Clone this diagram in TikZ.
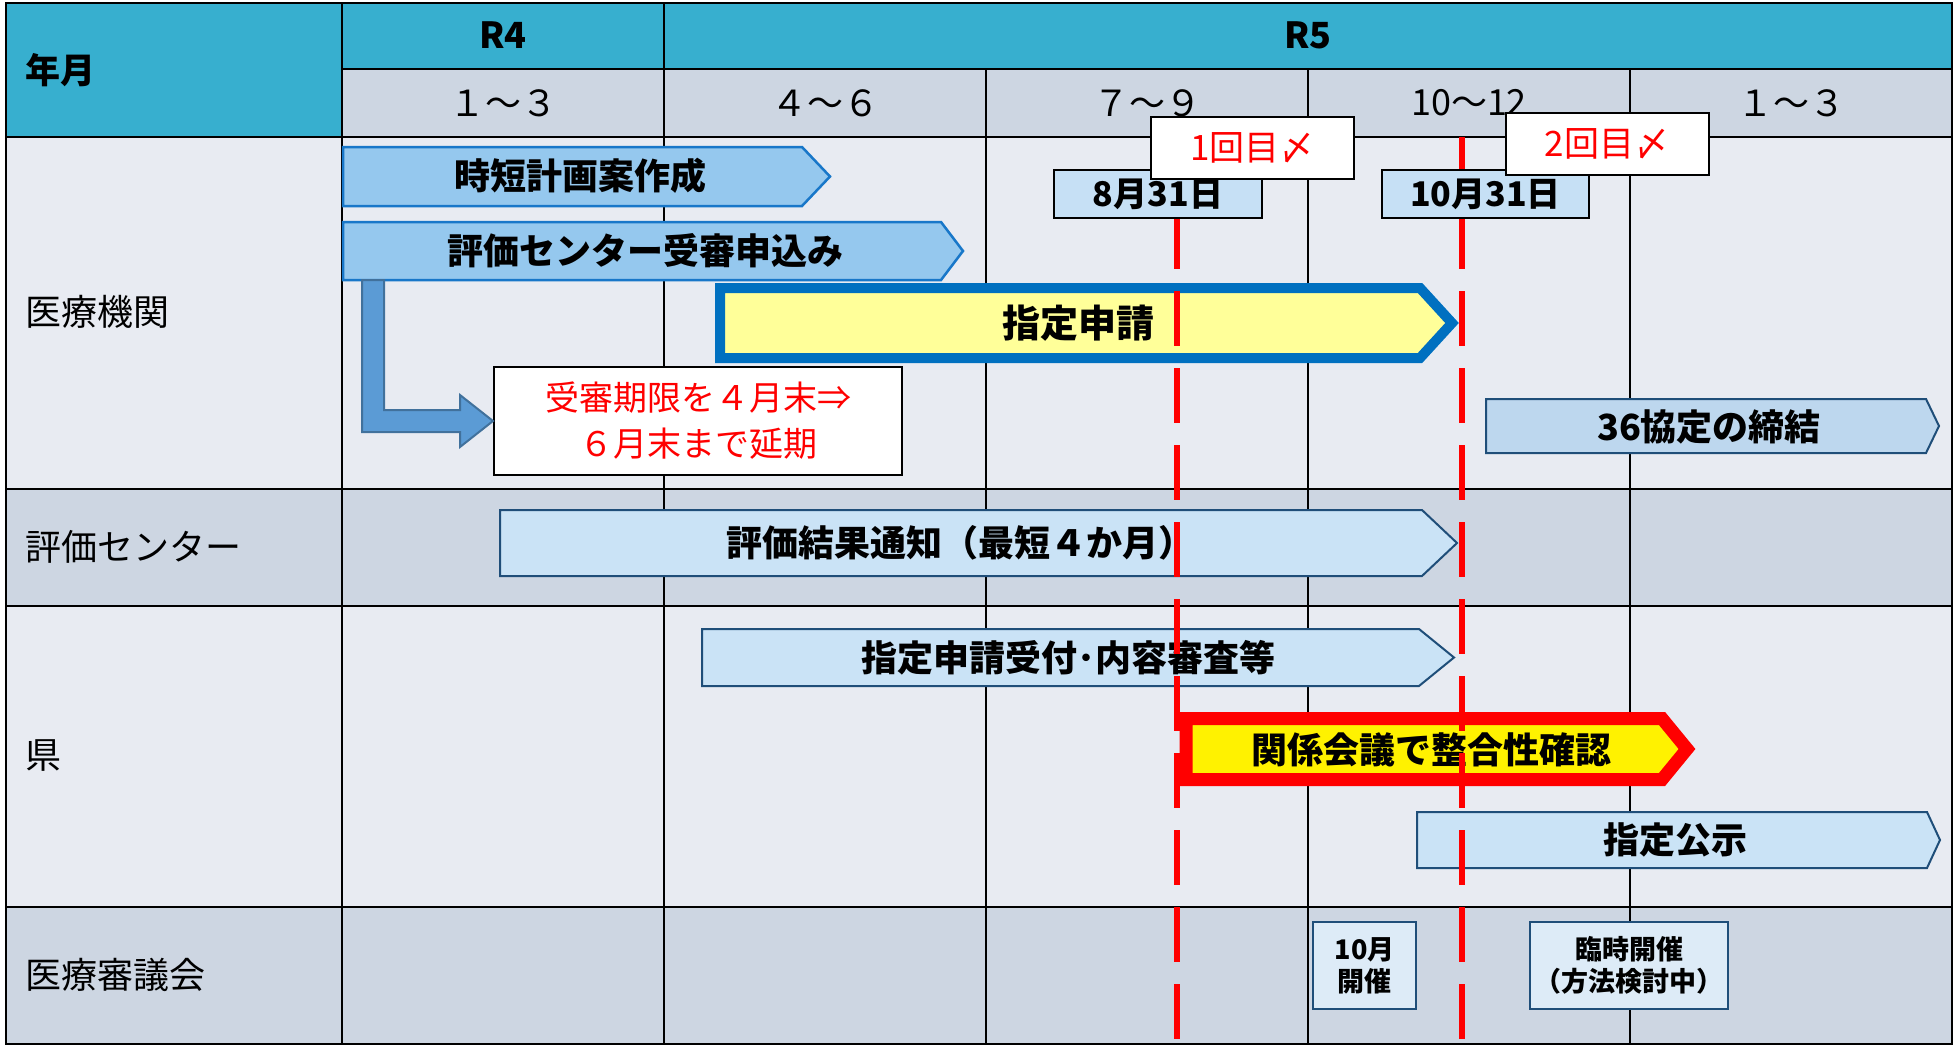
\documentclass[tikz,border=0pt]{standalone}
\usepackage{fontspec}
\setmainfont{Noto Sans CJK JP}
\usetikzlibrary{calc}

\definecolor{headteal}{RGB}{55,175,207}
\definecolor{subgray}{RGB}{205,214,226}
\definecolor{rowlight}{RGB}{232,235,242}
\definecolor{rowdark}{RGB}{205,214,226}
\definecolor{steelfill}{RGB}{149,200,238}
\definecolor{steelline}{RGB}{24,119,201}
\definecolor{palefill}{RGB}{202,227,246}
\definecolor{pactfill}{RGB}{189,215,238}
\definecolor{paleline}{RGB}{31,78,121}
\definecolor{requestfill}{RGB}{255,255,153}
\definecolor{requestline}{RGB}{0,112,192}
\definecolor{datefill}{RGB}{198,224,245}
\definecolor{meetfill}{RGB}{221,235,247}
\definecolor{bentfill}{RGB}{91,155,213}
\definecolor{bentline}{RGB}{65,113,156}

\begin{document}
\begin{tikzpicture}[x=1pt, y=-1pt,
  rowline/.style={line width=2.5pt},
  colline/.style={line width=1.5pt},
  headtext/.style={font=\fontsize{36}{40}\selectfont\bfseries},
  subtext/.style={font=\fontsize{36}{40}\selectfont},
  rowtext/.style={font=\fontsize{36}{40}\selectfont, anchor=west},
  steelbar/.style={fill=steelfill, draw=steelline, line width=2.5pt},
  palebar/.style={fill=palefill, draw=paleline, line width=2pt},
  bartext/.style={font=\fontsize{36}{40}\selectfont\bfseries},
  datebox/.style={draw, fill=datefill, line width=2pt, minimum width=207pt, minimum height=48pt, inner sep=0pt, font=\fontsize{34}{38}\selectfont\bfseries},
  cutbox/.style={draw, fill=white, line width=2pt, minimum width=203pt, minimum height=62pt, inner sep=0pt, text=red, font=\fontsize{35}{38}\selectfont},
  notebox/.style={draw, fill=white, line width=2pt, minimum width=408pt, minimum height=108pt, inner sep=0pt, align=center, text=red, font=\fontsize{34}{46}\selectfont},
  meetbox/.style={draw=paleline, fill=meetfill, line width=2.5pt, minimum height=87pt, inner sep=0pt, align=center, font=\fontsize{27}{32}\selectfont\bfseries},
  bentarrow/.style={fill=bentfill, draw=bentline, line width=2pt},
  deadline/.style={draw=red, line width=6pt, dash pattern=on 55pt off 22pt}]

\useasboundingbox (0,0) rectangle (1954,1049);

% Table frame
\def\tabl{6}      % left edge of the table
\def\tabr{1952}   % right edge of the table
\def\tabtop{3}    % top edge of the table
\def\headbot{69}  % bottom of the year row
\def\subbot{137}  % bottom of the quarter row
\def\orgbot{489}  % bottom of the hospital row
\def\evalbot{606} % bottom of the evaluation center row
\def\prefbot{907} % bottom of the prefecture row
\def\tabbot{1044} % bottom of the table
\def\labelw{342}  % right edge of the label column
\def\colw{322}    % width of one quarter

% Row backgrounds
\fill[headteal] (\tabl,\tabtop) rectangle (\tabr,\subbot);
\fill[subgray] (\labelw,\headbot) rectangle (\tabr,\subbot);
\fill[rowlight] (\tabl,\subbot) rectangle (\tabr,\orgbot);
\fill[rowdark] (\tabl,\orgbot) rectangle (\tabr,\evalbot);
\fill[rowlight] (\tabl,\evalbot) rectangle (\tabr,\prefbot);
\fill[rowdark] (\tabl,\prefbot) rectangle (\tabr,\tabbot);

% Grid lines
\draw[colline] (\labelw,\tabtop) -- (\labelw,\tabbot);
\draw[colline] ({\labelw+\colw},\tabtop) -- ({\labelw+\colw},\tabbot);
\foreach \k in {2,3,4}
  \draw[colline] ({\labelw+\colw*\k},\headbot) -- ({\labelw+\colw*\k},\tabbot);
\draw[line width=2pt] (\labelw,\headbot) -- (\tabr,\headbot);
\foreach \y in {\subbot,\orgbot,\evalbot,\prefbot}
  \draw[rowline] (\tabl,\y) -- (\tabr,\y);
\draw[rowline] (\tabl,\tabtop) rectangle (\tabr,\tabbot);

% Header labels
\node[headtext, anchor=west, font=\fontsize{35}{38}\selectfont\bfseries] (yearmonth) at (22,70) {年月};
\node[headtext] (r4) at (503,35) {R4};
\node[headtext] (r5) at (1308,35) {R5};
\foreach \lbl [count=\i] in {１～３,４～６,７～９,10～12,１～３}
  \node[subtext] (q\i) at ({\labelw+\colw*(\i-0.5)},103) {\lbl};

% Row labels
\node[rowtext] (orgrow) at (22,312) {医療機関};
\node[rowtext] (evalrow) at (22,547) {評価センター};
\node[rowtext] (prefrow) at (22,756) {県};
\node[rowtext] (councilrow) at (22,975) {医療審議会};

% Hospital tasks
\draw[steelbar] (343,147) -- (802,147) -- (830,176.5) -- (802,206) -- (343,206) -- cycle;
\node[bartext] (plan) at (580,176) {時短計画案作成};
\draw[steelbar] (343,222) -- (941,222) -- (963,251) -- (941,280) -- (343,280) -- cycle;
\node[bartext] (entry) at (645,251) {評価センター受審申込み};
\draw[fill=requestfill, draw=requestline, line width=10pt] (720,288) -- (1420,288) -- (1452,323) -- (1420,358) -- (720,358) -- cycle;
\node[bartext, font=\fontsize{38}{42}\selectfont\bfseries] (request) at (1078,323) {指定申請};
\draw[palebar, fill=pactfill] (1486,399) -- (1926,399) -- (1939,426) -- (1926,453) -- (1486,453) -- cycle;
\node[bartext] (pact) at (1709,427) {36協定の締結};

% Extension note and bent arrow
\node[notebox] (extend) at (698,421) {受審期限を４月末⇒\\６月末まで延期};
\coordinate (entryfoot) at (362,280);
\draw[bentarrow] (entryfoot) -- ++(22,0) |- ($(extend.west)+(-33,-11)$) -- ++(0,-15) -- (extend.west) -- ++(-33,26) -- ++(0,-15) -| (entryfoot) -- cycle;

% Evaluation center task
\draw[palebar] (500,510) -- (1422,510) -- (1457,543) -- (1422,576) -- (500,576) -- cycle;
\node[bartext] (notice) at (960,543) {評価結果通知（最短４か月）};

% Prefecture tasks
\draw[palebar] (702,629) -- (1419,629) -- (1454,657.5) -- (1419,686) -- (702,686) -- cycle;
\node[bartext] (review) at (1068,658) {指定申請受付･内容審査等};
\draw[fill=yellow, draw=red, line width=13pt] (1186,718.5) -- (1662,718.5) -- (1687,749) -- (1662,779.5) -- (1186,779.5) -- cycle;
\node[bartext] (check) at (1431,750) {関係会議で整合性確認};
\draw[palebar] (1417,812) -- (1927,812) -- (1940,840) -- (1927,868) -- (1417,868) -- cycle;
\node[bartext] (announce) at (1675,840) {指定公示};

% Council meetings
\node[meetbox, minimum width=103pt] (octmeet) at (1364.5,965.5) {10月\\開催};
\node[meetbox, minimum width=198pt] (extrameet) at (1629,965.5) {臨時開催\\（方法検討中）};

% Deadlines
\coordinate (cut1top) at (1177,\subbot);
\coordinate (cut1bot) at (1177,\tabbot);
\coordinate (cut2top) at (1462,\subbot);
\coordinate (cut2bot) at (1462,\tabbot);
\draw[deadline] (cut1top) -- (cut1bot);
\draw[deadline] (cut2top) -- (cut2bot);
\node[datebox, minimum width=208pt] (aug31) at (1158,194) {8月31日};
\node[datebox] (oct31) at (1485.5,194) {10月31日};
\node[cutbox] (cut1) at (1252.5,148) {1回目〆};
\node[cutbox] (cut2) at (1607,144) {2回目〆};

\end{tikzpicture}
\end{document}
